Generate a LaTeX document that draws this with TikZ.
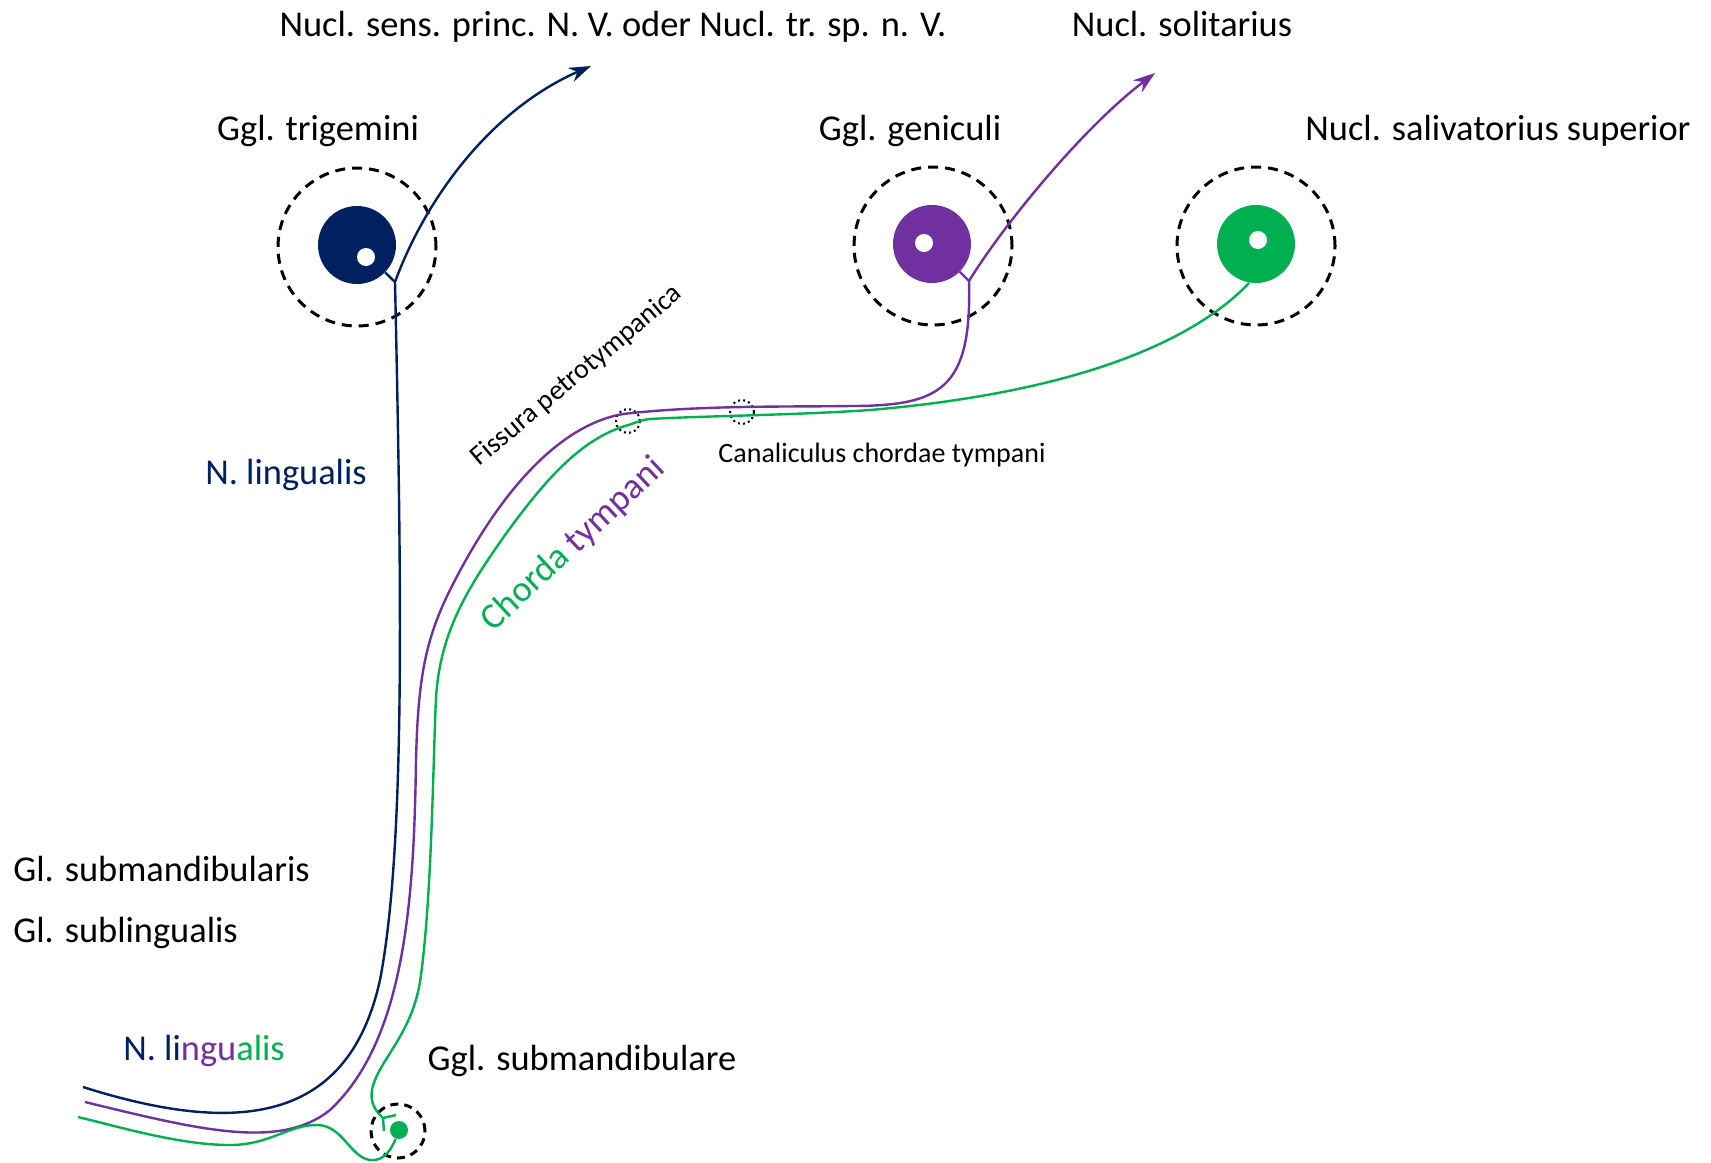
\documentclass[tikz,border=0pt]{standalone}
\usepackage{fontspec}
\setmainfont{Carlito}
\usepackage{tikz}
\usetikzlibrary{arrows.meta}
\definecolor{ngblue}{HTML}{002060}
\definecolor{ngpurple}{HTML}{7030A0}
\definecolor{nggreen}{HTML}{00B050}

\begin{document}
\begin{tikzpicture}[
		x=0.5pt, y=-0.5pt,
		cell/.style={circle, minimum size=39pt, inner sep=0pt},
		nucleus/.style={circle, fill=white, minimum size=9pt, inner sep=0pt},
		halo/.style={circle, draw, dash pattern=on 5pt off 3.5pt, line width=1.5pt, minimum size=79pt, inner sep=0pt},
		gap/.style={circle, draw, dash pattern=on 1pt off 1.6pt, line width=1pt, minimum size=12pt, inner sep=0pt},
		fibre/.style={line width=1.2pt},
		tip/.style={-{Stealth[length=11pt, width=7.5pt]}},
		big/.style={font=\fontsize{18.2}{22}\selectfont, inner sep=0pt, text height=13pt, text depth=4pt},
		small/.style={font=\fontsize{14}{17}\selectfont, inner sep=0pt, text height=10pt, text depth=3pt}
	]
  \useasboundingbox (0,0) rectangle (1711,1162);

  % ganglia and nucleus
  \node (trig_halo) [halo] at (357,247) {};
  \node (trig) [cell, fill=ngblue] at (357,245) {};
  \node (trig_dot) [nucleus] at (366,257) {};
  \node (gen_halo) [halo] at (933,246) {};
  \node (gen) [cell, fill=ngpurple] at (932,244) {};
  \node (gen_dot) [nucleus] at (924,243) {};
  \node (saliv_halo) [halo] at (1256,246) {};
  \node (saliv) [cell, fill=nggreen] at (1256,244) {};
  \node (saliv_dot) [nucleus] at (1258,240) {};
  \node (sub_halo) [halo, minimum size=27pt, dash pattern=on 4pt off 3pt] at (398,1131) {};
  \node (sub_dot) [circle, fill=nggreen, minimum size=9pt, inner sep=0pt] at (399,1130) {};

  % passages
  \node (fiss_gap) [gap] at (628,421) {};
  \node (canal_gap) [gap] at (742,412) {};

  \coordinate (trig_fork) at (395,282);
  \coordinate (trig_end) at (591,66);
  \coordinate (gen_fork) at (969,281);
  \coordinate (gen_end) at (1155,73);
  \coordinate (green_fork) at (383,1118);
  \coordinate (syn_a) at (384,1131);
  \coordinate (syn_b) at (396,1115);
  \coordinate (blue_end) at (83,1087);
  \coordinate (purple_end) at (85,1102);
  \coordinate (green_end) at (78,1117);

  % N. trigeminus
  \draw [fibre, ngblue] (trig) -- (trig_fork);
  \draw [fibre, ngblue, tip] (trig_fork) .. controls (425,200) and (490,110) .. (trig_end);
  \draw [fibre, ngblue] (trig_fork) .. controls (402,600) and (405,850) .. (380,980)
    .. controls (350,1115) and (250,1140) .. (blue_end);

  % taste fibres
  \draw [fibre, ngpurple] (gen) -- (gen_fork);
  \draw [fibre, ngpurple, tip] (gen_fork) .. controls (1000,230) and (1080,130) .. (gen_end);
  \draw [fibre, ngpurple] (gen_fork) .. controls (972,390) and (940,406) .. (850,406)
    .. controls (790,407) and (700,405) .. (623,414)
    .. controls (560,425) and (500,490) .. (450,590)
    .. controls (425,640) and (418,680) .. (416,760)
    .. controls (414,900) and (405,1040) .. (330,1110)
    .. controls (280,1150) and (200,1130) .. (purple_end);

  % parasympathetic fibres
  \draw [fibre, nggreen] (saliv.-100) .. controls (1195,340) and (1080,392) .. (870,410)
    .. controls (800,415) and (700,416) .. (650,419)
    .. controls (640,420) and (633,424) .. (625,426)
    .. controls (580,440) and (545,480) .. (505,535)
    .. controls (470,585) and (440,630) .. (436,698)
    .. controls (433,760) and (432,900) .. (420,982)
    .. controls (412,1030) and (385,1055) .. (375,1080)
    .. controls (368,1097) and (372,1108) .. (green_fork);
  \draw [fibre, nggreen] (syn_a) -- (green_fork) -- (syn_b);
  \draw [fibre, nggreen] (sub_dot) .. controls (392,1148) and (384,1162) .. (370,1160)
    .. controls (350,1157) and (343,1126) .. (318,1125)
    .. controls (290,1124) and (270,1145) .. (230,1145)
    .. controls (180,1145) and (120,1127) .. (green_end);

  % labels
  \node (nucl_sens) [big] at (613,27) {Nucl. sens. princ. N. V. oder Nucl. tr. sp. n. V.};
  \node (nucl_sol) [big] at (1182,27) {Nucl. solitarius};
  \node (trig_label) [big] at (318,131) {Ggl. trigemini};
  \node (gen_label) [big] at (910,131) {Ggl. geniculi};
  \node (saliv_label) [big] at (1498,131) {Nucl. salivatorius superior};
  \node (ling_label) [big, text=ngblue] at (286,475) {N. lingualis};
  \node (gl_submand) [big, anchor=west] at (13,872) {Gl. submandibularis};
  \node (gl_subling) [big, anchor=west] at (13,933) {Gl. sublingualis};
  \node (ling_mixed) [big] at (204,1051) {\textcolor{ngblue}{N. li}\textcolor{ngpurple}{ngu}\textcolor{nggreen}{alis}};
  \node (sub_label) [big] at (582,1061) {Ggl. submandibulare};
  \node (canal_label) [small] at (882,455) {Canaliculus chordae tympani};
  \node (fiss_label) [small, rotate=40] at (577,376) {Fissura petrotympanica};
  \node (chorda_label) [big, rotate=43] at (574,545) {\textcolor{nggreen}{Chorda} \textcolor{ngpurple}{tympani}};
\end{tikzpicture}
\end{document}
